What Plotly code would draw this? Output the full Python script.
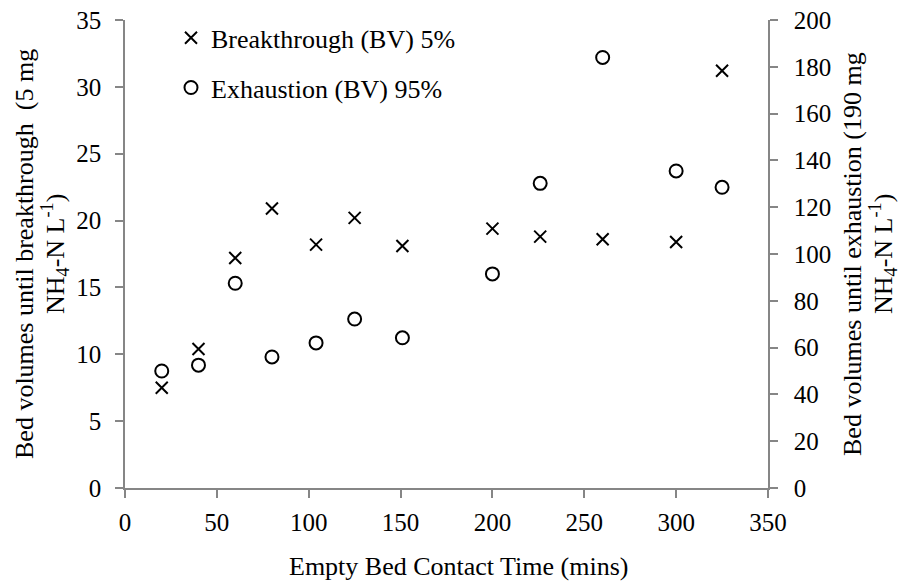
import plotly.graph_objects as go

ebct = [20, 40, 60, 80, 104, 125, 151, 200, 226, 260, 300, 325]
breakthrough_bv = [7.5, 10.4, 17.2, 20.9, 18.2, 20.2, 18.1, 19.4, 18.8, 18.6, 18.4, 31.2]
exhaustion_bv = [50.0, 52.5, 87.5, 56.0, 62.0, 72.2, 64.2, 91.5, 130.2, 184.0, 135.5, 128.5]

x_title = "Empty Bed Contact Time (mins)"
y1_title = ["Bed volumes until breakthrough &nbsp;(5 mg", "NH<sub>4</sub>-N L<sup>-1</sup>)"]
y2_title = ["Bed volumes until exhaustion (190 mg", "NH<sub>4</sub>-N L<sup>-1</sup>)"]

FONT = "Liberation Serif"
TFS = 25
LFS = 26
AX = "#868686"

W, H = 904, 583
L, R, T, B = 125, 768, 20, 488
PW, PH = R - L, B - T


def px(xs):
    return (xs - L) / PW


def py(ys):
    return (B - ys) / PH


fig = go.Figure()
fig.add_trace(go.Scatter(
    x=ebct, y=breakthrough_bv, mode="markers", name="Breakthrough (BV) 5%",
    legendgroup="a",
    marker=dict(symbol="x-thin-open", size=12, color="black", line=dict(width=2, color="black")),
    yaxis="y"))
fig.add_trace(go.Scatter(
    x=ebct, y=exhaustion_bv, mode="markers", name="Exhaustion (BV) 95%",
    legendgroup="b",
    marker=dict(symbol="circle-open", size=13, color="black", line=dict(width=2, color="black")),
    yaxis="y2"))

axis_common = dict(showgrid=False, zeroline=False, showline=True, linecolor=AX, linewidth=1.5,
                   ticks="outside", ticklen=8, tickwidth=1.5, tickcolor=AX, automargin=False,
                   tickfont=dict(family=FONT, size=TFS, color="black"))

ann_font = dict(family=FONT, size=LFS, color="black")
annotations = [
    dict(text=x_title, xref="paper", yref="paper", x=px(458), y=py(566),
         xanchor="center", yanchor="middle", showarrow=False, font=ann_font),
    dict(text=y1_title[0], xref="paper", yref="paper", x=px(24), y=0.5,
         xanchor="center", yanchor="middle", textangle=-90, showarrow=False, font=ann_font),
    dict(text=y1_title[1], xref="paper", yref="paper", x=px(55), y=0.5,
         xanchor="center", yanchor="middle", textangle=-90, showarrow=False, font=ann_font),
    dict(text=y2_title[0], xref="paper", yref="paper", x=px(852), y=0.5,
         xanchor="center", yanchor="middle", textangle=-90, showarrow=False, font=ann_font),
    dict(text=y2_title[1], xref="paper", yref="paper", x=px(883), y=0.5,
         xanchor="center", yanchor="middle", textangle=-90, showarrow=False, font=ann_font),
]

fig.update_layout(
    width=W, height=H,
    margin=dict(l=L, r=W - R, t=T, b=H - B, autoexpand=False),
    paper_bgcolor="white", plot_bgcolor="white",
    font=dict(family=FONT, size=TFS, color="black"),
    xaxis=dict(range=[0, 350], dtick=50, tick0=0, ticklabelstandoff=3, **axis_common),
    yaxis=dict(range=[0, 35], dtick=5, tick0=0, ticklabelstandoff=9, **axis_common),
    yaxis2=dict(range=[0, 200], dtick=20, tick0=0, overlaying="y", side="right",
                ticklabelstandoff=11, **axis_common),
    showlegend=True,
    legend=dict(x=px(171), y=py(14.3), xanchor="left", yanchor="top",
                bgcolor="rgba(0,0,0,0)",
                font=dict(family=FONT, size=LFS, color="black"), tracegroupgap=13,
                itemwidth=30),
    annotations=annotations,
)

fig.write_html("out.html", config={"displayModeBar": False},
               post_script="document.body.style.margin='0';document.body.style.overflow='hidden';")
